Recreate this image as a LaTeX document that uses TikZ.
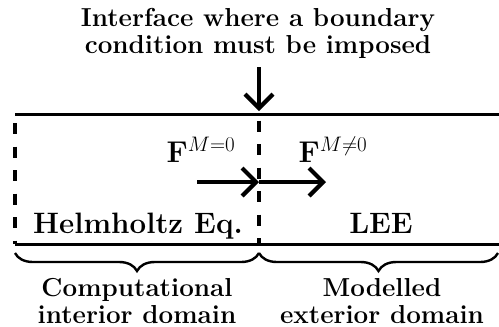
\RequirePackage{fix-cm}
\documentclass[tikz,border=0pt]{standalone}
\usetikzlibrary{arrows.meta,decorations.pathreplacing}
\begin{document}
\begin{tikzpicture}[x=1pt,y=1pt,
  boxline/.style={line width=3pt},
  dashline/.style={line width=3.2pt,dash pattern=on 11pt off 12.5pt},
  bigarrow/.style={line width=4.2pt,-{Straight Barb[length=14pt,width=28pt,line width=4.2pt]}},
  bracestyle/.style={line width=2.4pt,decorate,decoration={brace,mirror,amplitude=18pt}},
  lbl/.style={inner sep=0pt,font=\fontsize{26}{26.5}\selectfont\bfseries,align=center},
  boxlbl/.style={inner sep=0pt,font=\fontsize{29.5}{32}\selectfont\bfseries},
  flbl/.style={inner sep=0pt,font=\fontsize{30}{32}\selectfont}]
\useasboundingbox (0,0) rectangle (499,-327);
% corners
\coordinate (tl) at (15,-114);
\coordinate (tr) at (499,-114);
\coordinate (bl) at (15,-244);
\coordinate (br) at (499,-244);
\coordinate (tm) at (259,-114);
\coordinate (bm) at (259,-244);
% title
\node[lbl,anchor=base] (title) at (258,-53) {Interface where a boundary\\condition must be imposed};
\coordinate (arrtop) at (259,-67);
\coordinate (arrtip) at (259,-111);
\draw[bigarrow] (arrtop) -- (arrtip);
% box
\draw[boxline] (tl) -- (tr);
\draw[boxline] (bl) -- (br);
\draw[dashline,dash phase=14.5pt] (tl) -- (bl);
\draw[dashline,dash phase=17pt] (tm) -- (bm);
% flux arrows
\coordinate (f0s) at (197,-182);
\coordinate (f0e) at (259,-182);
\coordinate (f1e) at (326,-182);
\draw[bigarrow] (f0s) -- (f0e);
\draw[bigarrow] (f0e) -- (f1e);
\node[flbl,anchor=base] (F0) at (201,-162) {$\mathbf{F}^{M=0}$};
\node[flbl,anchor=base] (F1) at (333,-162) {$\mathbf{F}^{M\neq0}$};
% box labels
\node[boxlbl,anchor=base] (helm) at (138,-233) {Helmholtz Eq.};
\node[boxlbl,anchor=base] (lee) at (381,-233) {LEE};
% braces
\coordinate (bl2) at (15,-253);
\coordinate (bm2) at (259,-253);
\coordinate (br2) at (498,-253);
\draw[bracestyle] (bl2) -- (bm2);
\draw[bracestyle] (bm2) -- (br2);
\node[lbl,anchor=base] (comp) at (137,-323) {Computational\\interior domain};
\node[lbl,anchor=base] (mod) at (382,-323) {Modelled\\exterior domain};
\end{tikzpicture}
\end{document}
